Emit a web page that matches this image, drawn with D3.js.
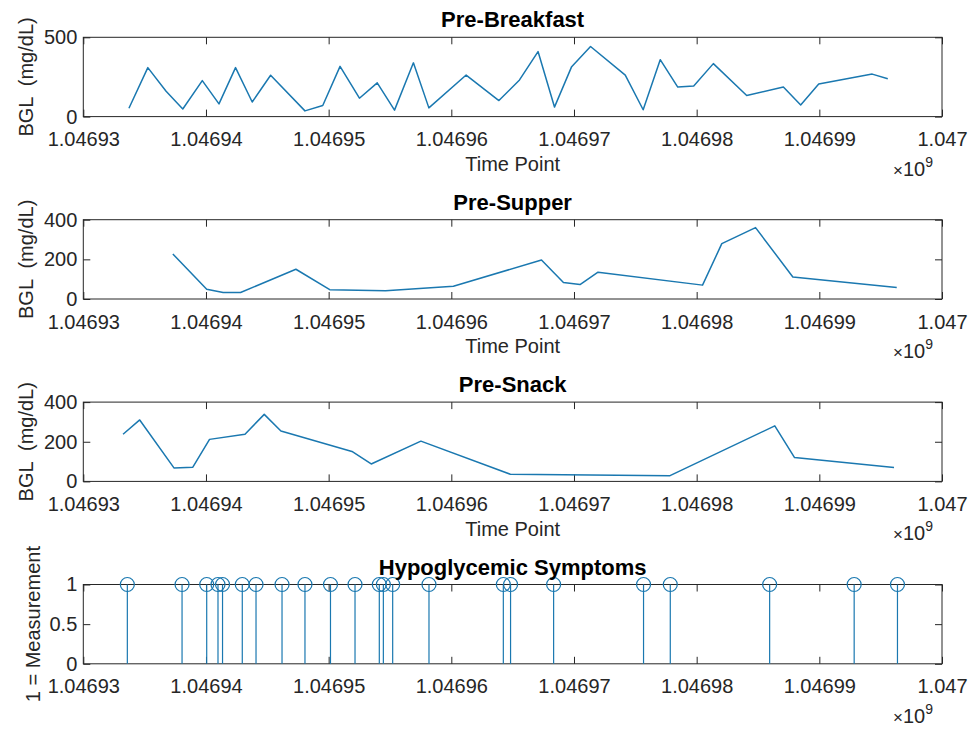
<!DOCTYPE html>
<html>
<head>
<meta charset="utf-8">
<script src="https://cdn.jsdelivr.net/npm/d3@7/dist/d3.min.js"></script>
<style>
  body { margin: 0; background: #fff; }
  svg { display: block; font-family: "Liberation Sans", Arial, Helvetica, sans-serif; }
  .box { fill: none; stroke: #262626; stroke-width: 1; }
  .tick line { stroke: #262626; }
  .tick text { fill: #262626; font-size: 20px; }
  .title { font-size: 22px; font-weight: bold; fill: #000; text-anchor: middle; }
  .label { font-size: 20px; fill: #262626; text-anchor: middle; white-space: pre; }
  .series { fill: none; stroke: #1a78b0; stroke-width: 1.5; stroke-linejoin: round; }
  .stem { stroke: #1a78b0; stroke-width: 1.2; }
  .marker { fill: none; stroke: #1a78b0; stroke-width: 1.2; }
</style>
</head>
<body>
<div id="chart"></div>
<script>
// 时间点 (Unix 秒) 和血糖值
var breakfastTimes = [1046933720, 1046935260, 1046936750, 1046938110, 1046939700, 1046941060,
  1046942410, 1046943770, 1046945270, 1046948070, 1046949520, 1046950930, 1046952510,
  1046953960, 1046955370, 1046956910, 1046958170, 1046961210, 1046963880, 1046965560,
  1046967070, 1046968410, 1046969810, 1046971350, 1046974180, 1046975640, 1046977030,
  1046978460, 1046979760, 1046981360, 1046984080, 1046987070, 1046988480, 1046989950,
  1046994310, 1046995580];
var breakfastValues = [53, 309, 160, 48, 227, 80, 309, 92, 261, 36, 70, 317, 116, 213, 41, 339,
  55, 262, 101, 231, 410, 60, 315, 442, 262, 43, 359, 186, 193, 334, 133, 186, 73, 205, 268, 239];

var supperTimes = [1046937300, 1046940060, 1046941400, 1046942820, 1046947330, 1046950090,
  1046954640, 1046960170, 1046967350, 1046969140, 1046970490, 1046971960, 1046980480,
  1046982050, 1046984800, 1046987840, 1046996310];
var supperValues = [227, 49, 33, 33, 150, 47, 42, 64, 197, 83, 73, 135, 70, 279, 360, 111, 58];

var snackTimes = [1046933240, 1046934600, 1046937390, 1046938930, 1046940290, 1046943180,
  1046944750, 1046946110, 1046951900, 1046953470, 1046957520, 1046964810, 1046977830,
  1046986370, 1046987980, 1046996090];
var snackValues = [238, 310, 68, 72, 212, 238, 338, 254, 151, 88, 203, 36, 29, 280, 120, 70];

var hypoTimes = [1046933590, 1046938050, 1046940060, 1046940980, 1046941350, 1046942960,
  1046944080, 1046946200, 1046948070, 1046950150, 1046952150, 1046954130, 1046954460,
  1046955220, 1046958180, 1046964240, 1046964830, 1046968340, 1046975670, 1046977850,
  1046985950, 1046992840, 1046996370];
var hypoValues = hypoTimes.map(function () { return 1; });

// 坐标轴刻度
var xTicks = [1046930000, 1046940000, 1046950000, 1046960000, 1046970000, 1046980000,
  1046990000, 1047000000];
var bglTicks500 = [0, 500];
var bglTicks400 = [0, 200, 400];
var hypoTicks = [0, 0.5, 1];

// 版面常量
var width = 971, height = 729;
var left = 83.3, right = 942, plotH = 79.3, tickLen = 7;
var tops = [37.3, 219.7, 402.1, 584.5];

var svg = d3.select('#chart').append('svg')
  .attr('width', width)
  .attr('height', height);
svg.append('rect').attr('width', width).attr('height', height).attr('fill', '#fff');

var x = d3.scaleLinear().domain([1046930000, 1047000000]).range([left, right]);
var fmtX = function (d) { return d3.format('.6')(d / 1e9); };

function drawPanel(cfg) {
  var g = svg.append('g').attr('transform', 'translate(0,' + cfg.top + ')');
  var y = d3.scaleLinear().domain(cfg.yDomain).range([plotH, 0]);

  // 下方刻度 + 标签
  var xb = g.append('g').attr('transform', 'translate(0,' + plotH + ')')
    .call(d3.axisBottom(x).tickValues(xTicks).tickFormat(fmtX)
      .tickSizeInner(-tickLen).tickSizeOuter(0).tickPadding(15.3));
  xb.select('.domain').remove();
  // 上方刻度
  var xt = g.append('g')
    .call(d3.axisTop(x).tickValues(xTicks).tickFormat('')
      .tickSizeInner(-tickLen).tickSizeOuter(0));
  xt.select('.domain').remove();
  // 左侧刻度
  var yl = g.append('g').attr('transform', 'translate(' + left + ',0)')
    .call(d3.axisLeft(y).tickValues(cfg.yTicks).tickFormat(cfg.yFormat || d3.format('d'))
      .tickSizeInner(-tickLen).tickSizeOuter(0).tickPadding(6));
  yl.select('.domain').remove();
  // 右侧刻度
  var yr = g.append('g').attr('transform', 'translate(' + right + ',0)')
    .call(d3.axisRight(y).tickValues(cfg.yTicks).tickFormat('')
      .tickSizeInner(-tickLen).tickSizeOuter(0));
  yr.select('.domain').remove();

  g.append('rect').attr('class', 'box')
    .attr('x', left).attr('y', 0)
    .attr('width', right - left).attr('height', plotH);

  var pts = cfg.times.map(function (t, i) { return [t, cfg.values[i]]; });
  if (cfg.stem) {
    g.selectAll('line.stem').data(pts).enter().append('line')
      .attr('class', 'stem')
      .attr('x1', function (d) { return x(d[0]); })
      .attr('x2', function (d) { return x(d[0]); })
      .attr('y1', y(0))
      .attr('y2', function (d) { return y(d[1]); });
    g.selectAll('circle.marker').data(pts).enter().append('circle')
      .attr('class', 'marker')
      .attr('cx', function (d) { return x(d[0]); })
      .attr('cy', function (d) { return y(d[1]); })
      .attr('r', 7);
  } else {
    var line = d3.line()
      .x(function (d) { return x(d[0]); })
      .y(function (d) { return y(d[1]); });
    g.append('path').attr('class', 'series').datum(pts).attr('d', line);
  }

  // 标题
  g.append('text').attr('class', 'title')
    .attr('x', (left + right) / 2).attr('y', -10)
    .text(cfg.title);
  // y 轴标题
  g.append('text').attr('class', 'label')
    .attr('transform', 'translate(' + cfg.yLabelX + ',' + (plotH / 2) + ') rotate(-90)')
    .text(cfg.yLabel);
  // x 轴标题
  if (cfg.xLabel) {
    g.append('text').attr('class', 'label')
      .attr('x', (left + right) / 2).attr('y', plotH + 54.5)
      .text(cfg.xLabel);
  }
  // 指数 ×10^9
  var ex = g.append('text').attr('class', 'label')
    .attr('x', 893).attr('y', plotH + 59)
    .style('text-anchor', 'start');
  ex.append('tspan').style('font-size', '17px').text('\u00d7');
  ex.append('tspan').text('10');
  ex.append('tspan').attr('dy', -9).style('font-size', '14px').text('9');
}

drawPanel({ top: tops[0], title: 'Pre-Breakfast', times: breakfastTimes, values: breakfastValues,
  yDomain: [0, 500], yTicks: bglTicks500, yLabel: 'BGL  (mg/dL)', yLabelX: 33, xLabel: 'Time Point' });
drawPanel({ top: tops[1], title: 'Pre-Supper', times: supperTimes, values: supperValues,
  yDomain: [0, 400], yTicks: bglTicks400, yLabel: 'BGL  (mg/dL)', yLabelX: 33, xLabel: 'Time Point' });
drawPanel({ top: tops[2], title: 'Pre-Snack', times: snackTimes, values: snackValues,
  yDomain: [0, 400], yTicks: bglTicks400, yLabel: 'BGL  (mg/dL)', yLabelX: 33, xLabel: 'Time Point' });
drawPanel({ top: tops[3], title: 'Hypoglycemic Symptoms', times: hypoTimes, values: hypoValues,
  yDomain: [0, 1], yTicks: hypoTicks, yFormat: d3.format('~g'), yLabel: '1 = Measurement',
  yLabelX: 40, stem: true });
</script>
</body>
</html>
